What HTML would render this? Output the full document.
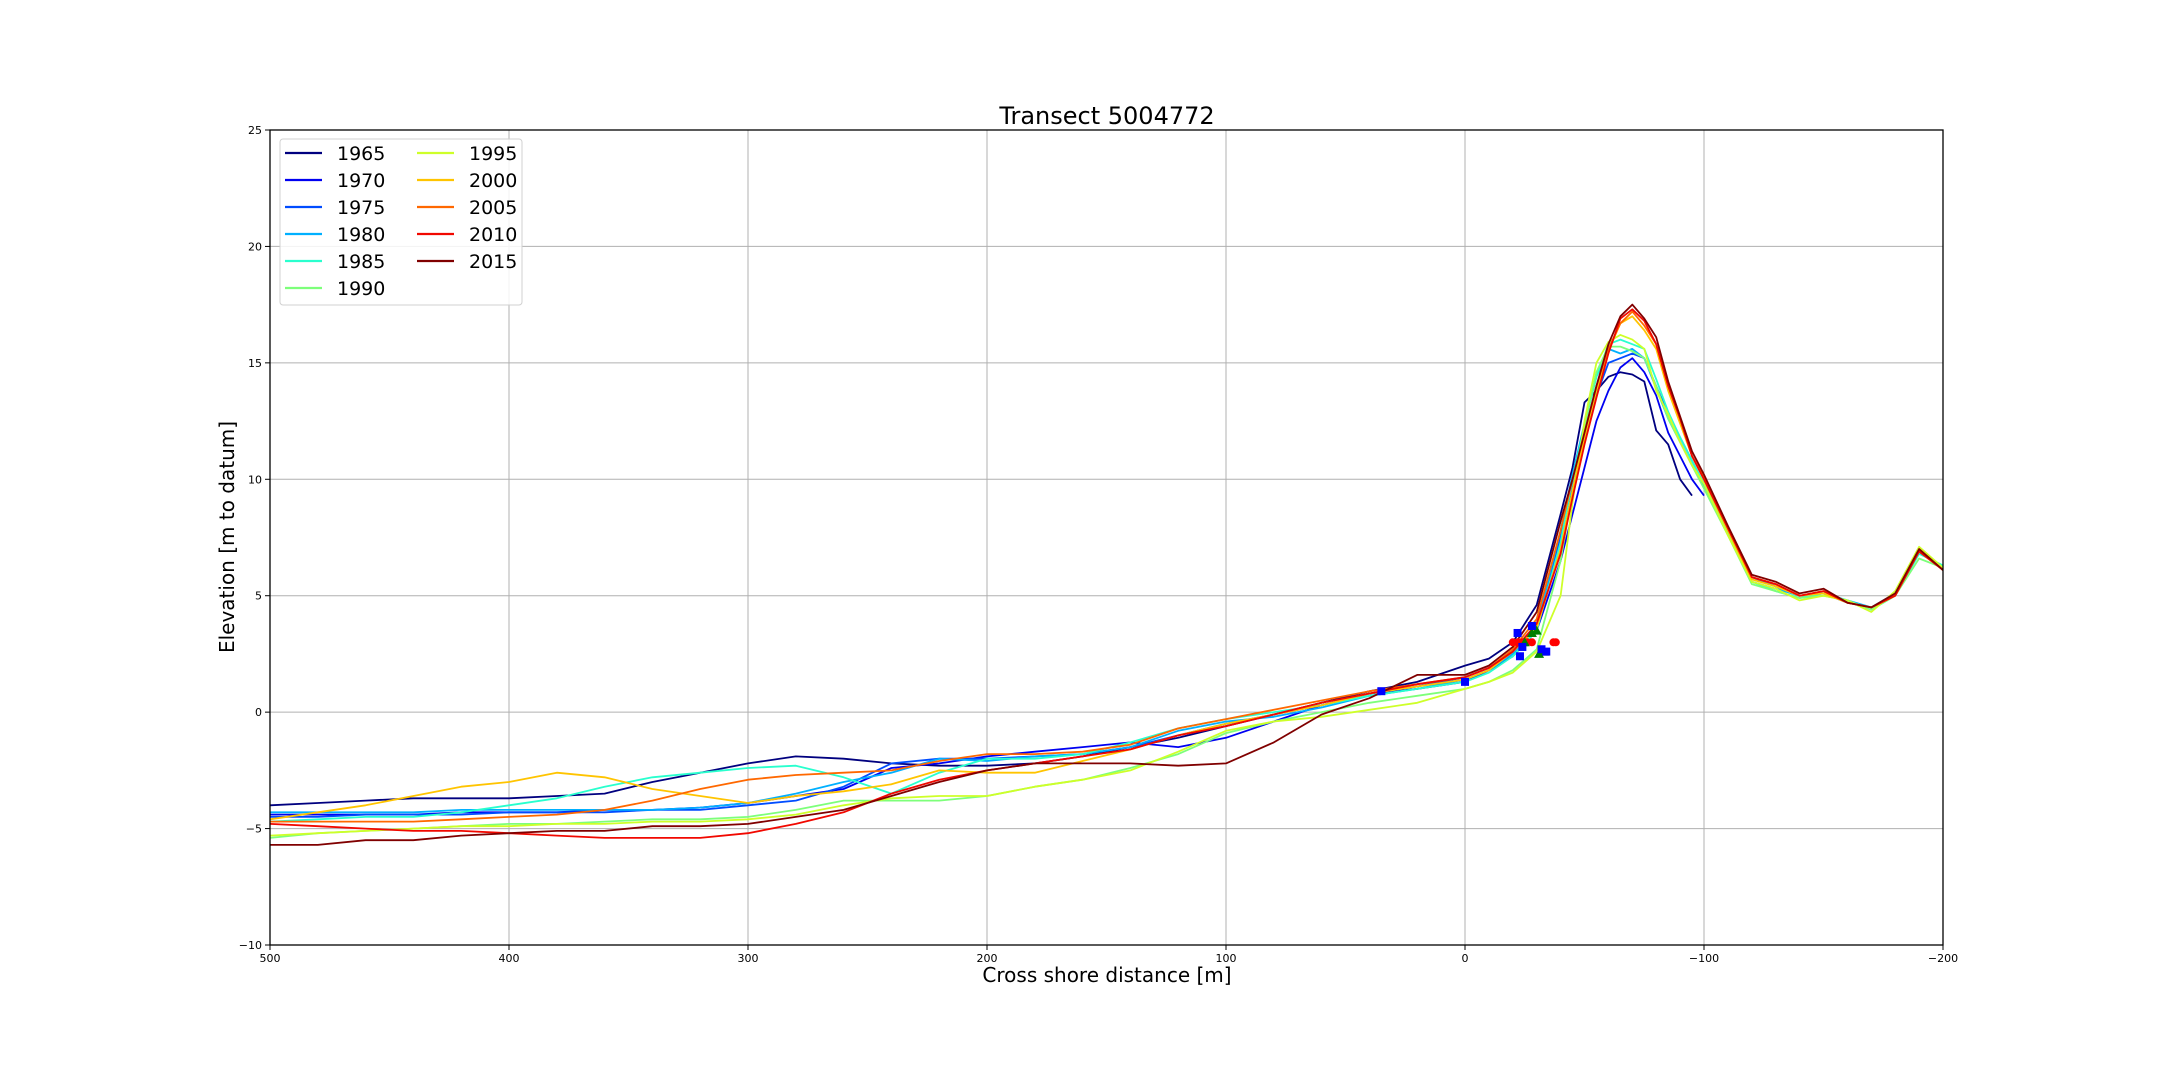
<!DOCTYPE html>
<html><head><meta charset="utf-8"><style>
html,body{margin:0;padding:0;background:#fff;}
svg text{font-family:"DejaVu Sans","Liberation Sans",sans-serif;fill:#000;}
</style></head><body>
<svg id="chart" width="2160" height="1080" xmlns="http://www.w3.org/2000/svg">
<rect width="2160" height="1080" fill="#fff"/>
<g id="grid"></g>
<g id="series"></g>
<g id="marks"></g>
<rect x="270" y="130" width="1673" height="815" fill="none" stroke="#000" stroke-width="1.3"/>
<g id="ticks"></g>
<text x="1107" y="124" font-size="24" text-anchor="middle">Transect 5004772</text>
<text x="1107" y="982" font-size="20" text-anchor="middle">Cross shore distance [m]</text>
<text x="0" y="0" font-size="20" text-anchor="middle" transform="translate(234,537) rotate(-90)">Elevation [m to datum]</text>
<g id="legend"></g>
</svg>
<script>
const xGrid=[500,480,460,440,420,400,380,360,340,320,300,280,260,240,220,200,180,160,140,120,100,80,60,40,20,0,-10,-20,-30,-40,-45,-50,-55,-60,-65,-70,-75,-80,-85,-90,-95,-100,-110,-120,-130,-140,-150,-160,-170,-180,-190,-200];
const years=["1965","1970","1975","1980","1985","1990","1995","2000","2005","2010","2015"].slice(0,11);
const colors=["#00007f","#0000f1","#004cff","#00b0ff","#29ffce","#7dff7a","#ceff29","#ffc400","#ff6800","#f10800","#800000"];
const N=null;
const s1965=[-4.0,-3.9,-3.8,-3.7,-3.7,-3.7,-3.6,-3.5,-3.0,-2.6,-2.2,-1.9,-2.0,-2.2,-2.3,-2.3,-2.2,-1.9,-1.5,-1.1,-0.6,-0.1,0.4,0.9,1.3,2.0, 2.3,3.0,4.6,8.5,10.5,13.3,13.8,14.4,14.6,14.5,14.2,12.1,11.5,10.0,9.3,N, N,N,N,N,N,N,N,N,N,N];
const s1970=[-4.4,-4.4,-4.4,-4.4,-4.3,-4.3,-4.3,-4.2,-4.2,-4.1,-3.9,-3.6,-3.3,-2.4,-2.2,-1.9,-1.7,-1.5,-1.3,-1.5,-1.1,-0.4,0.3,0.8,1.0,1.3, 1.8,2.4,3.5,6.5,8.5,10.5,12.5,13.8,14.8,15.2,14.6,13.6,12.0,11.0,10.0,9.3, N,N,N,N,N,N,N,N,N,N];
const s1975=[-4.5,-4.5,-4.4,-4.4,-4.4,-4.3,-4.3,-4.3,-4.2,-4.2,-4.0,-3.8,-3.2,-2.2,-2.0,-2.0,-1.9,-1.8,-1.5,-1.0,-0.5,-0.1,0.3,0.8,1.1,1.5, 1.9,2.6,3.8,7.5,9.8,11.8,13.6,15.0,15.2,15.4,15.2,14.0,12.8,11.8,10.8,9.8, 7.9,5.8,5.4,5.0,5.1,4.7,4.5,5.0,6.9,6.2];
const s1980=[-4.3,-4.3,-4.3,-4.3,-4.2,-4.2,-4.2,-4.2,-4.2,-4.1,-3.9,-3.5,-3.0,-2.6,-2.0,-2.1,-1.9,-1.8,-1.5,-0.8,-0.4,-0.2,0.2,0.7,1.0,1.4, 1.8,2.5,3.7,7.8,10.2,12.4,14.4,15.6,15.4,15.6,15.2,13.9,12.6,11.6,10.6,9.7, 7.8,5.6,5.3,5.0,5.1,4.8,4.5,5.1,7.0,6.2];
const s1985=[-4.7,-4.6,-4.5,-4.5,-4.3,-4.0,-3.7,-3.2,-2.8,-2.6,-2.4,-2.3,-2.8,-3.5,-2.6,-2.0,-2.0,-1.8,-1.3,-0.7,-0.3,0.0,0.3,0.7,1.0,1.3, 1.7,2.4,3.5,7.3,10.0,12.3,14.4,15.8,16.0,15.8,15.6,14.3,12.9,11.8,10.8,9.8, 7.7,5.6,5.2,4.9,5.1,4.8,4.4,5.0,6.8,6.3];
const s1990=[-5.4,-5.2,-5.1,-5.0,-4.9,-4.8,-4.8,-4.7,-4.6,-4.6,-4.5,-4.2,-3.8,-3.8,-3.8,-3.6,-3.2,-2.9,-2.4,-1.8,-0.9,-0.4,0.0,0.4,0.7,1.0, 1.3,1.8,2.7,6.5,9.5,12.3,14.6,15.7,15.7,15.5,15.2,14.0,12.6,11.6,10.6,9.6, 7.6,5.5,5.2,4.9,5.0,4.8,4.4,5.0,6.6,6.2];
const s1995=[-5.3,-5.2,-5.1,-5.0,-4.9,-4.9,-4.8,-4.8,-4.7,-4.7,-4.6,-4.4,-4.0,-3.7,-3.6,-3.6,-3.2,-2.9,-2.5,-1.7,-0.8,-0.4,-0.2,0.1,0.4,1.0, 1.3,1.7,2.6,5.0,9.0,12.5,15.0,15.9,16.2,16.0,15.6,13.8,12.8,11.6,10.6,9.8, 7.6,5.6,5.3,4.8,5.0,4.8,4.3,5.2,7.1,6.2];
const s2000=[-4.6,-4.3,-4.0,-3.6,-3.2,-3.0,-2.6,-2.8,-3.3,-3.6,-3.9,-3.6,-3.4,-3.1,-2.5,-2.6,-2.6,-2.1,-1.6,-1.0,-0.5,-0.1,0.3,0.8,1.1,1.4, 1.8,2.6,3.6,7.0,9.5,11.8,13.8,15.5,16.7,17.0,16.4,15.6,13.8,12.4,11.0,10.0, 7.8,5.7,5.4,5.0,5.1,4.7,4.5,5.0,7.0,6.1];
const s2005=[-4.7,-4.7,-4.7,-4.7,-4.6,-4.5,-4.4,-4.2,-3.8,-3.3,-2.9,-2.7,-2.6,-2.5,-2.1,-1.8,-1.8,-1.7,-1.4,-0.7,-0.3,0.1,0.5,0.9,1.2,1.5, 1.9,2.7,4.0,7.8,10.0,12.0,14.0,15.6,16.7,17.2,16.6,15.8,14.0,12.6,11.0,10.1, 7.9,5.8,5.5,5.0,5.2,4.7,4.5,5.0,7.0,6.1];
const s2010=[-4.8,-4.9,-5.0,-5.1,-5.1,-5.2,-5.3,-5.4,-5.4,-5.4,-5.2,-4.8,-4.3,-3.5,-2.9,-2.5,-2.2,-1.9,-1.6,-1.0,-0.6,-0.1,0.4,0.8,1.2,1.5, 1.9,2.6,3.8,6.8,9.2,11.5,13.5,15.4,16.9,17.3,16.8,15.8,14.0,12.6,11.0,10.0, 7.9,5.8,5.5,5.0,5.2,4.7,4.5,5.0,6.9,6.1];
const s2015=[-5.7,-5.7,-5.5,-5.5,-5.3,-5.2,-5.1,-5.1,-4.9,-4.9,-4.8,-4.5,-4.2,-3.6,-3.0,-2.5,-2.2,-2.2,-2.2,-2.3,-2.2,-1.3,-0.1,0.6,1.6,1.6, 2.0,2.8,4.3,8.2,10.0,12.0,14.0,15.8,17.0,17.5,16.9,16.1,14.2,12.7,11.2,10.2, 8.0,5.9,5.6,5.1,5.3,4.7,4.5,5.1,7.0,6.1];
const seriesVals=[s1965,s1970,s1975,s1980,s1985,s1990,s1995,s2000,s2005,s2010,s2015];
const squareX=[35,0,-22,-23,-24,-28,-32,-34];
const squareY=[0.9,1.3,3.4,2.4,2.8,3.7,2.7,2.6];
const circleX=[-20,-22,-24,-26,-28,-37,-38];
const circleY=[3.0,3.0,3.0,3.0,3.0,3.0,3.0];
const triX=[-25,-28,-30,-31,-33];
const triY=[3.0,3.4,3.5,2.5,2.6];
const xTicks=[500,400,300,200,100,0,-100,-200];
const yTicks=[-10,-5,0,5,10,15,20,25];

const L=270,R=1943,T=130,B=945;
const sx=v=>L+(500-v)/700*(R-L);
const sy=v=>B-(v+10)/35*(B-T);
const NS="http://www.w3.org/2000/svg";
function mk(tag,attrs,parent){const e=document.createElementNS(NS,tag);for(const k in attrs)e.setAttribute(k,attrs[k]);parent.appendChild(e);return e;}
const grid=document.getElementById('grid'),ticks=document.getElementById('ticks');
xTicks.forEach(t=>{
  const g=mk('line',{x1:sx(t),x2:sx(t),y1:T,y2:B,stroke:'#b0b0b0','stroke-width':1},grid);
  
  
  const tk=mk('line',{x1:sx(t),x2:sx(t),y1:B,y2:B+5,stroke:'#000'},ticks);
  
  
  const lb=mk('text',{x:sx(t),y:B+17,'font-size':11,'text-anchor':'middle'},ticks);
  lb.textContent=t<0?'\u2212'+(-t):String(t);
  
  
});
yTicks.forEach(t=>{
  const g=mk('line',{x1:L,x2:R,y1:sy(t),y2:sy(t),stroke:'#b0b0b0','stroke-width':1},grid);
  
  
  const tk=mk('line',{x1:L-5,x2:L,y1:sy(t),y2:sy(t),stroke:'#000'},ticks);
  
  
  const lb=mk('text',{x:L-8,y:sy(t)+4,'font-size':11,'text-anchor':'end'},ticks);
  lb.textContent=t<0?'\u2212'+(-t):String(t);
  
  
});
const sg=document.getElementById('series');
seriesVals.forEach((vals,i)=>{
  let d='',pen=false;
  vals.forEach((v,j)=>{ if(v===null){pen=false;return;} d+=(pen?'L':'M')+sx(xGrid[j]).toFixed(1)+' '+sy(v).toFixed(1); pen=true;});
  const p=mk('path',{d:d,fill:'none',stroke:colors[i],'stroke-width':1.8,'stroke-linejoin':'round'},sg);
  
  
});
const mg=document.getElementById('marks');
circleX.forEach((x,i)=>{
  const c=mk('circle',{cx:sx(x),cy:sy(circleY[i]),r:4,fill:'#ff0000'},mg);
  
  
});
triX.forEach((x,i)=>{
  const cx=sx(x),cy=sy(triY[i]);
  const t=mk('polygon',{points:`${cx},${cy-5} ${cx-5},${cy+4} ${cx+5},${cy+4}`,fill:'#007f00'},mg);
  
  
});
squareX.forEach((x,i)=>{
  const r=mk('rect',{x:sx(x)-4,y:sy(squareY[i])-4,width:8,height:8,fill:'#0000ff'},mg);
  
  
});
const lg=document.getElementById('legend');
const box=mk('rect',{x:280,y:139,width:242,height:166,rx:3,fill:'#fff','fill-opacity':0.85,stroke:'#d0d0d0'},lg);


years.forEach((y,i)=>{
  const col=i<6?0:1,row=i<6?i:i-6;
  const x0=285+col*132,yy=153+row*27;
  const ln=mk('line',{x1:x0,x2:x0+37,y1:yy,y2:yy,stroke:colors[i],'stroke-width':2.2},lg);
  
  
  const tx=mk('text',{x:x0+52,y:yy+7,'font-size':19},lg);
  tx.textContent=y;
  
  
});
</script>
</body></html>
